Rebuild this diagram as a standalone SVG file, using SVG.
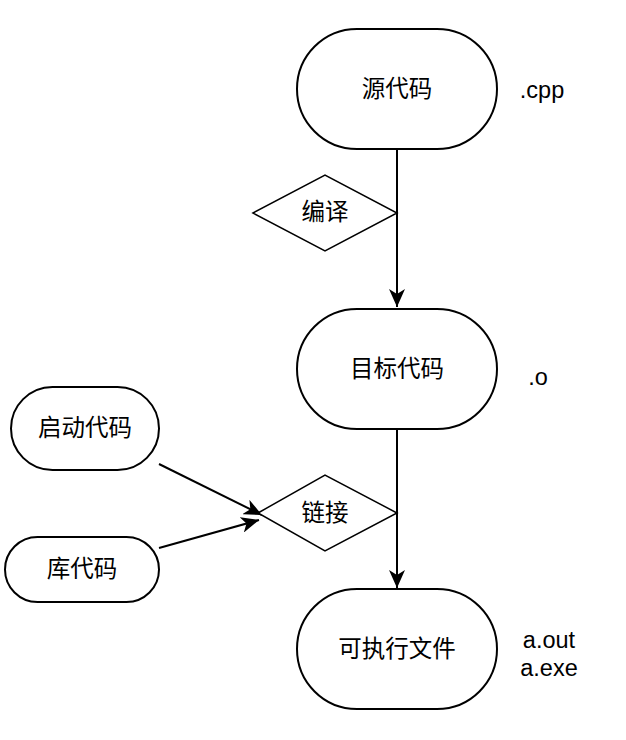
<svg xmlns="http://www.w3.org/2000/svg" width="626" height="740" viewBox="0 0 626 740">
<style>
.n{fill:#fff;stroke:#000;stroke-width:2}
.d{fill:#fff;stroke:#000;stroke-width:1.5}
.t{font-family:"Liberation Sans","Noto Sans CJK SC",sans-serif;font-size:23.5px;fill:#000;text-anchor:middle;dominant-baseline:central}
.c{fill:none;stroke:#000;stroke-width:2}
</style>
<defs>
<marker id="ah" markerUnits="userSpaceOnUse" viewBox="0 0 18 16" refX="18" refY="8" markerWidth="18" markerHeight="16" orient="auto">
<path d="M0,0 L18,8 L0,16 L5,8 Z" fill="#000"/>
</marker>
</defs>
<g id="connectors">
<line class="c" x1="397" y1="149" x2="397" y2="307" marker-end="url(#ah)"/>
<line class="c" x1="397" y1="429" x2="397" y2="588" marker-end="url(#ah)"/>
<line class="c" x1="159" y1="464" x2="262" y2="515" marker-end="url(#ah)"/>
<line class="c" x1="159" y1="548" x2="259" y2="520" marker-end="url(#ah)"/>
</g>
<g id="src">
<rect class="n" x="297" y="29" width="200" height="120" rx="60" ry="60"/>
<text class="t" x="397" y="89">源代码</text>
</g>
<g id="compile">
<polygon class="d" points="253,213 325,175 397,213 325,251"/>
<text class="t" x="325" y="212">编译</text>
</g>
<g id="obj">
<rect class="n" x="297" y="309" width="200" height="120" rx="60" ry="60"/>
<text class="t" x="397" y="369">目标代码</text>
</g>
<g id="link">
<polygon class="d" points="258,513 325,475 397,513 325,551"/>
<text class="t" x="325" y="513">链接</text>
</g>
<g id="exe">
<rect class="n" x="297" y="589" width="200" height="120" rx="60" ry="60"/>
<text class="t" x="397" y="649">可执行文件</text>
</g>
<g id="start">
<rect class="n" x="11" y="387" width="148" height="83" rx="41.5" ry="41.5"/>
<text class="t" x="85" y="428">启动代码</text>
</g>
<g id="lib">
<rect class="n" x="5" y="537" width="154" height="65" rx="32.5" ry="32.5"/>
<text class="t" x="82" y="569">库代码</text>
</g>
<g id="labels">
<text class="t" x="542" y="90">.cpp</text>
<text class="t" x="538" y="377">.o</text>
<text class="t" x="549" y="640">a.out</text>
<text class="t" x="549" y="668">a.exe</text>
</g>
</svg>
